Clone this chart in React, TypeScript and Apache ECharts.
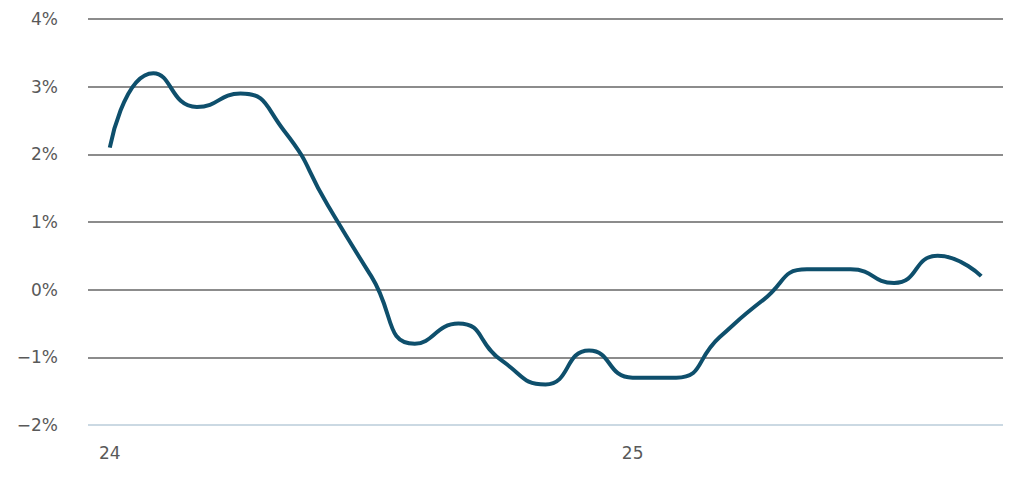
import React, { useEffect, useRef } from "react";
import * as echarts from "echarts";

const months: string[] = [
  "2024-01", "2024-02", "2024-03", "2024-04", "2024-05", "2024-06", "2024-07",
  "2024-08", "2024-09", "2024-10", "2024-11", "2024-12", "2025-01", "2025-02",
  "2025-03", "2025-04", "2025-05", "2025-06", "2025-07", "2025-08", "2025-09",
];
const xLabels: Record<number, string> = { 0: "24", 12: "25" };
const values: number[] = [
  2.1, 3.2, 2.7, 2.9, 2.35, 1.25, 0.2, -0.8, -0.5, -1.05, -1.4, -0.9, -1.3,
  -1.3, -0.7, -0.15, 0.3, 0.3, 0.1, 0.5, 0.2,
];
const yMin = -2;
const yMax = 4;
const yStep = 1;

export default function App() {
  const ref = useRef<HTMLDivElement>(null);
  useEffect(() => {
    if (!ref.current) return;
    const chart = echarts.init(ref.current, undefined, { renderer: "svg" });
    const gridColors = ["#cbd9e3"];
    for (let i = 0; i < 6; i++) gridColors.push("#8c8c8c");
    chart.setOption({
      animation: false,
      grid: { left: 88, right: 21, top: 19, bottom: 76 },
      xAxis: {
        type: "category",
        data: months,
        boundaryGap: true,
        axisLine: { show: false },
        axisTick: { show: false },
        axisLabel: {
          interval: 0,
          formatter: (_v: string, i: number) => xLabels[i] ?? "",
          color: "#595959",
          fontSize: 17,
          fontFamily: "DejaVu Sans",
          margin: 19,
        },
      },
      yAxis: {
        type: "value",
        min: yMin,
        max: yMax,
        interval: yStep,
        axisLine: { show: false },
        axisTick: { show: false },
        axisLabel: {
          formatter: (v: number) => (v < 0 ? "\u2212" + Math.abs(v) : String(v)) + "%",
          color: "#595959",
          fontSize: 17,
          fontFamily: "DejaVu Sans",
          margin: 30,
        },
        splitLine: { lineStyle: { color: gridColors, width: 2 } },
      },
      series: [
        {
          type: "line",
          data: values,
          smooth: 0.55,
          showSymbol: false,
          lineStyle: { color: "#0e4f6c", width: 4 },
        },
      ],
    });
    return () => chart.dispose();
  }, []);
  return <div ref={ref} style={{ width: 1024, height: 501, position: "absolute", left: 0, top: 0 }} />;
}
